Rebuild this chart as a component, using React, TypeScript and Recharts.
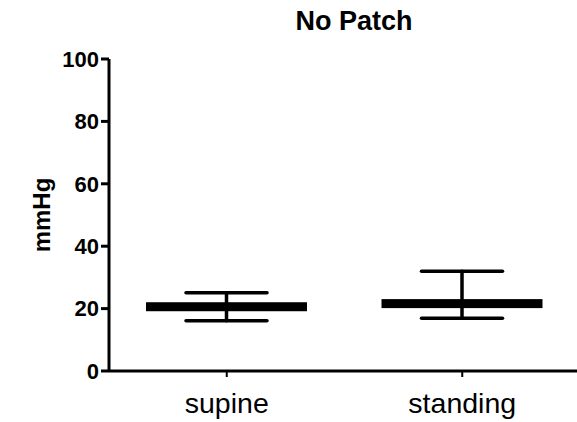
import React from 'react';
import { ComposedChart, Bar, ErrorBar, XAxis, YAxis } from 'recharts';

const categories = ['supine', 'standing'];
const means = [20.6, 21.6];
const lows = [16.1, 16.9];
const highs = [25.1, 32.0];
const yTicks = [0, 20, 40, 60, 80, 100];
const title = 'No Patch';
const yLabel = 'mmHg';

const data = categories.map((c, i) => ({
  name: c,
  mean: means[i],
  err: [means[i] - lows[i], highs[i] - means[i]],
}));

const FONT = '"Liberation Sans", Arial, sans-serif';

const MeanLine = (props: any) => {
  const { x, y, width } = props;
  return <rect x={x} y={y - 4.5} width={width} height={9} fill="#000" />;
};

const YLabel = (props: any) => {
  const vb = props.viewBox || {};
  const cx = 41;
  const cy = vb.y + vb.height / 2;
  return (
    <text
      x={cx}
      y={cy}
      transform={`rotate(-90 ${cx} ${cy})`}
      textAnchor="middle"
      dominantBaseline="central"
      fontFamily={FONT}
      fontWeight="bold"
      fontSize={24}
      fill="#000"
    >
      {yLabel}
    </text>
  );
};

export default function App() {
  return (
    <div style={{ position: 'absolute', left: 0, top: 0, width: 577, height: 422, overflow: 'hidden', background: '#fff' }}>
      <div
        style={{
          position: 'absolute',
          left: 254,
          width: 200,
          top: 6,
          textAlign: 'center',
          fontFamily: FONT,
          fontWeight: 'bold',
          fontSize: 27,
          color: '#000',
          lineHeight: '31px',
        }}
      >
        {title}
      </div>
      <ComposedChart
        width={585}
        height={422}
        data={data}
        margin={{ top: 59, right: 5, bottom: 5, left: 0 }}
      >
        <XAxis
          dataKey="name"
          height={46}
          axisLine={{ stroke: '#000', strokeWidth: 3 }}
          tickLine={{ stroke: '#000', strokeWidth: 2 }}
          tickSize={6}
          tickMargin={16}
          tick={{ fill: '#000', fontFamily: FONT, fontSize: 28.5 }}
        />
        <YAxis
          width={109}
          domain={[0, 100]}
          ticks={yTicks}
          interval={0}
          axisLine={{ stroke: '#000', strokeWidth: 3 }}
          tickLine={{ stroke: '#000', strokeWidth: 3 }}
          tickSize={8}
          tickMargin={2}
          tick={{ fill: '#000', fontFamily: FONT, fontSize: 22, fontWeight: 'bold' }}
          label={<YLabel />}
        />
        <Bar dataKey="mean" barSize={161} shape={<MeanLine />} isAnimationActive={false}>
          <ErrorBar
            dataKey="err"
            width={40.5}
            stroke="#000"
            strokeWidth={3.5}
            strokeLinecap="round"
            direction="y"
            isAnimationActive={false}
          />
        </Bar>
      </ComposedChart>
    </div>
  );
}
